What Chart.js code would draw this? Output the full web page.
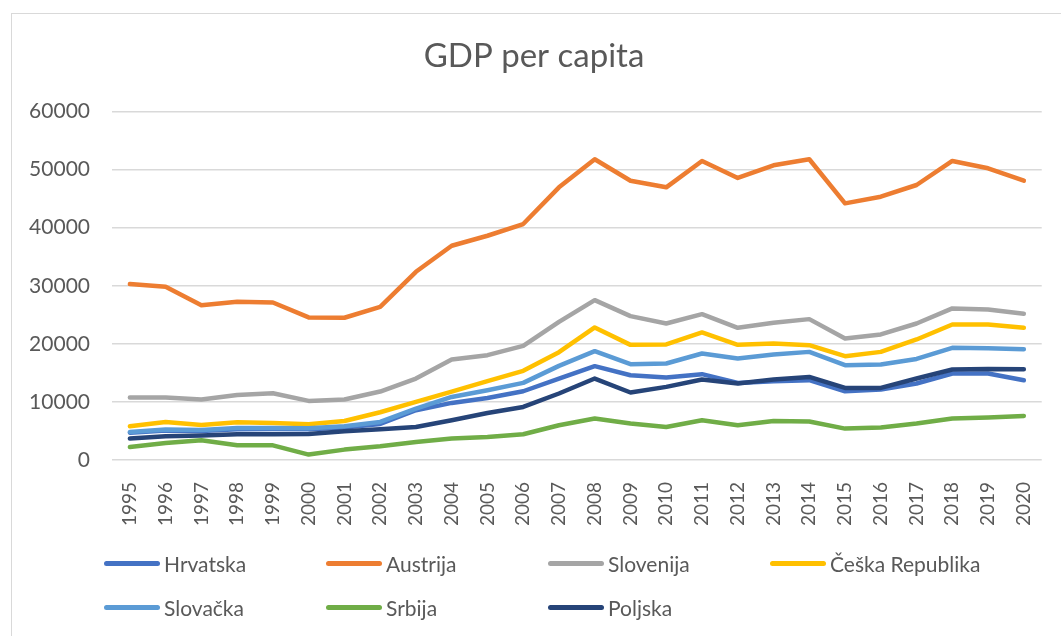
<!DOCTYPE html>
<html lang="hr">
<head>
    <meta charset="UTF-8">
    <title>GDP per capita</title>
    <style>
        body { margin: 0; background: #fff; overflow: hidden; }
        .okvir {
            position: absolute; left: 11px; top: 13px;
            width: 1100px; height: 700px;
            border: 1.5px solid #d9d9d9;
        }
        #graf { position: absolute; left: 0; top: 0; }
        .legenda { position: absolute; left: 0; top: 0; font-family: Lato, sans-serif; font-size: 21px; color: #595959; }
        .stavka { position: absolute; display: flex; align-items: center; height: 30px; white-space: nowrap; }
        .crta { width: 56px; height: 5px; border-radius: 3px; margin-right: 4px; }
    </style>
</head>
<body>
    <div class="okvir"></div>
    <canvas id="graf" width="1061" height="636"></canvas>
    <div class="legenda" id="legenda"></div>

<script src="https://cdn.jsdelivr.net/npm/chart.js"></script>
<script>
const godine = ['1995', '1996', '1997', '1998', '1999', '2000', '2001', '2002', '2003', '2004', '2005', '2006', '2007',
    '2008', '2009', '2010', '2011', '2012', '2013', '2014', '2015', '2016', '2017', '2018', '2019', '2020'];

const hrvatska = [4700, 5100, 5000, 5300, 5350, 5300, 5600, 6200, 8570, 9830, 10690, 11840, 14030,
    16160, 14600, 14200, 14780, 13280, 13570, 13740, 11840, 12140, 13170, 14900, 14900, 13740];
const austrija = [30300, 29830, 26670, 27240, 27130, 24550, 24500, 26380, 32410, 36900, 38620, 40640, 46960,
    51790, 48100, 46960, 51500, 48570, 50750, 51790, 44200, 45350, 47360, 51500, 50240, 48100];
const slovenija = [10750, 10770, 10410, 11210, 11500, 10180, 10410, 11790, 14030, 17300, 18050, 19660, 23790,
    27530, 24770, 23510, 25120, 22760, 23620, 24260, 20930, 21620, 23510, 26100, 25930, 25170];
const ceska = [5810, 6550, 6030, 6500, 6380, 6160, 6720, 8220, 10000, 11790, 13570, 15350, 18570,
    22830, 19830, 19900, 21970, 19830, 20070, 19780, 17880, 18620, 20760, 23340, 23340, 22760];
const slovacka = [4830, 5240, 5170, 5520, 5520, 5470, 5810, 6550, 8860, 10860, 12020, 13280, 16210,
    18740, 16500, 16620, 18340, 17480, 18170, 18620, 16330, 16450, 17410, 19310, 19260, 19090];
const srbija = [2240, 2930, 3400, 2530, 2530, 930, 1790, 2360, 3100, 3690, 3970, 4430, 5980,
    7140, 6270, 5690, 6840, 5980, 6720, 6620, 5410, 5590, 6270, 7140, 7310, 7590];
const poljska = [3690, 4090, 4200, 4430, 4430, 4480, 4950, 5290, 5690, 6840, 8100, 9140, 11450,
    14030, 11620, 12590, 13860, 13170, 13860, 14310, 12410, 12410, 14030, 15590, 15690, 15650];

const zemlje = ['Hrvatska', 'Austrija', 'Slovenija', 'Češka Republika', 'Slovačka', 'Srbija', 'Poljska'];
const boje = ['#4472C4', '#ED7D31', '#A5A5A5', '#FFC000', '#5B9BD5', '#70AD47', '#264478'];
const podaci = [hrvatska, austrija, slovenija, ceska, slovacka, srbija, poljska];

const tekst = '#595959';
const font = 'Lato, sans-serif';

// zadnja serija se crta zadnja (na vrhu)
const datasets = zemlje.map(function (ime, i) {
    return {
        label: ime,
        data: podaci[i],
        borderColor: boje[i],
        backgroundColor: boje[i],
        borderWidth: 4.5,
        borderCapStyle: 'round',
        borderJoinStyle: 'round',
        pointRadius: 0,
        tension: 0,
        order: zemlje.length - i
    };
});

const ctx = document.getElementById('graf').getContext('2d');

const graf = new Chart(ctx, {
    type: 'line',
    data: { labels: godine, datasets: datasets },
    options: {
        responsive: false,
        animation: false,
        layout: { padding: { left: 26, right: 19, top: 0, bottom: 96 } },
        plugins: {
            legend: { display: false },
            tooltip: { enabled: false },
            title: {
                display: true,
                text: 'GDP per capita',
                color: tekst,
                font: { family: font, size: 33, weight: 'normal' },
                padding: { top: 37, bottom: 35 }
            }
        },
        scales: {
            x: {
                offset: true,
                grid: { display: false },
                border: { display: false },
                ticks: {
                    color: tekst,
                    font: { family: font, size: 19 },
                    minRotation: 90,
                    maxRotation: 90,
                    padding: 14,
                    autoSkip: false
                },
                afterFit: function (scale) { scale.height = 80; }
            },
            y: {
                min: 0,
                max: 60000,
                ticks: {
                    stepSize: 10000,
                    color: tekst,
                    font: { family: font, size: 21 },
                    padding: 22,
                    callback: function (v) { return String(v); }
                },
                grid: { color: '#d9d9d9', lineWidth: 1.5, drawTicks: false },
                border: { display: false },
                afterFit: function (scale) { scale.width = 86; }
            }
        }
    }
});

// legenda u 4 stupca ispod grafa
const legenda = document.getElementById('legenda');
graf.data.datasets.forEach(function (ds, i) {
    const stavka = document.createElement('div');
    stavka.className = 'stavka';
    stavka.style.left = (104 + (i % 4) * 222) + 'px';
    stavka.style.top = (548 + Math.floor(i / 4) * 44) + 'px';
    const crta = document.createElement('div');
    crta.className = 'crta';
    crta.style.background = ds.borderColor;
    const ime = document.createElement('span');
    ime.textContent = ds.label;
    stavka.appendChild(crta);
    stavka.appendChild(ime);
    legenda.appendChild(stavka);
});
</script>
</body>
</html>
